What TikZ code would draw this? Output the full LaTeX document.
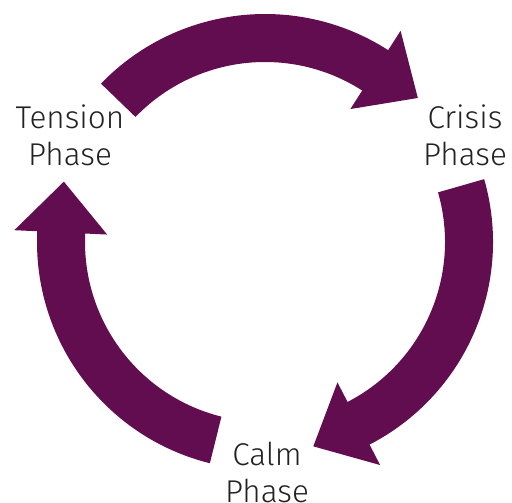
\documentclass[tikz,border=0pt]{standalone}
\usepackage{fontspec}
\setmainfont{Fira Sans}[UprightFont={* Light}]
\definecolor{cyclepurple}{RGB}{98,13,79}
\definecolor{labelgray}{RGB}{34,34,34}
\tikzset{
  cyclearrow/.style={fill=cyclepurple, draw=none},
  phaselabel/.style={align=center, text=labelgray, inner sep=0pt,
    font=\fontsize{31.5}{37}\selectfont}
}
\begin{document}
\begin{tikzpicture}[x=1pt,y=1pt]
  % canvas, centred on the cycle
  \useasboundingbox (-265,-261) rectangle (247,242);
  % three curved block arrows, each turned 120 degrees from the last
  \foreach \rot in {0,-120,-240} {
    \fill[cyclearrow, rotate=\rot]
      (136:228) arc[start angle=136, end angle=57.3, radius=228]
      -- (57.3:251) -- (43.3:210) -- (57.3:158) -- (57.3:180)
      arc[start angle=57.3, end angle=136, radius=180] -- cycle;
  }
  % phase labels
  \node[phaselabel, anchor=north] (tension) at (-195,137) {Tension\\Phase};
  \node[phaselabel, anchor=north] (crisis) at (200,137) {Crisis\\Phase};
  \node[phaselabel, anchor=north] (calm) at (2,-200) {Calm\\Phase};
\end{tikzpicture}
\end{document}
